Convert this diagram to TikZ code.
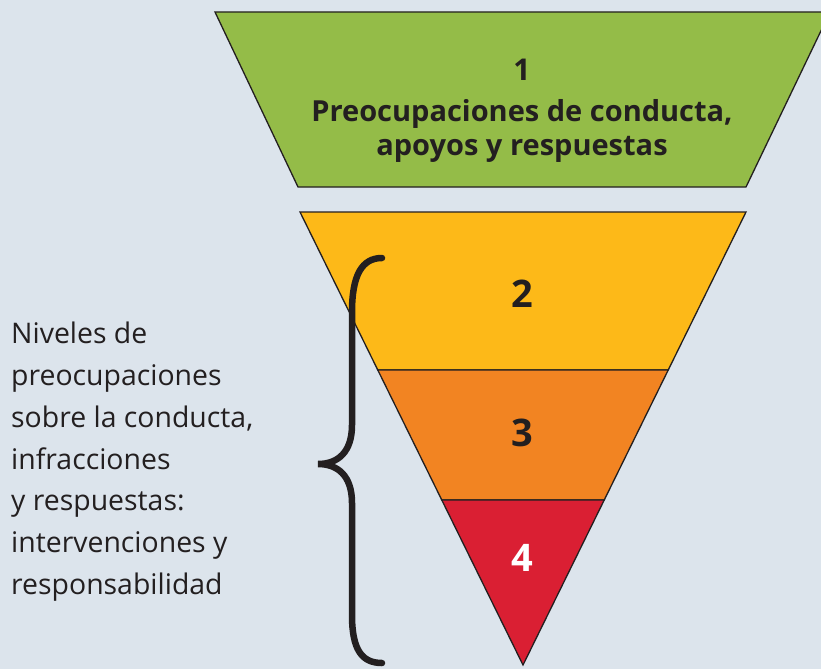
\documentclass[tikz,border=0pt]{standalone}
\usepackage{fontspec}
\setmainfont{Open Sans}
\usepackage{tikz}
\usetikzlibrary{positioning}
\usetikzlibrary{calc}

\definecolor{bgblue}{HTML}{DCE4EC}
\definecolor{ink}{HTML}{231F20}
\definecolor{lvlgreen}{HTML}{94BC48}
\definecolor{lvlyellow}{HTML}{FDB918}
\definecolor{lvlorange}{HTML}{F28422}
\definecolor{lvlred}{HTML}{DA1F33}

\begin{document}
\begin{tikzpicture}[x=1pt,y=-1pt,
  every node/.style={inner sep=0pt,text=ink},
  band/.style={draw=ink,line width=1.3pt,line join=miter},
  level/.style={font=\bfseries\fontsize{38}{40}\selectfont},
  title/.style={font=\bfseries\fontsize{29}{34.5}\selectfont,align=center},
  side/.style={font=\fontsize{28.4}{41.8}\selectfont,align=left},
  brace/.style={draw=ink,line width=6.5pt,line cap=round}]

    \fill[bgblue] (0,0) rectangle (821,669);
    \useasboundingbox (0,0) rectangle (821,669);
    \clip (0,0) rectangle (821,669);

    % funnel corners
    \coordinate (tl) at (300,212);
    \coordinate (tr) at (746,212);
    \coordinate (apex) at (523,665);
    \coordinate (l3) at ($(tl)!{158/453}!(apex)$);
    \coordinate (r3) at ($(tr)!{158/453}!(apex)$);
    \coordinate (l4) at ($(tl)!{288/453}!(apex)$);
    \coordinate (r4) at ($(tr)!{288/453}!(apex)$);

    \filldraw[band,fill=lvlgreen] (215,12) -- (830,12) -- (746,187) -- (298,187) -- cycle;
    \filldraw[band,fill=lvlyellow] (tl) -- (tr) -- (r3) -- (l3) -- cycle;
    \filldraw[band,fill=lvlorange] (l3) -- (r3) -- (r4) -- (l4) -- cycle;
    \filldraw[band,fill=lvlred] (l4) -- (r4) -- (apex) -- cycle;

    \node[font=\bfseries\fontsize{30}{34}\selectfont](one) at (522,70){1};
    \node[title,below=18pt of one](concerns){Preocupaciones de conducta,\\apoyos y respuestas};

    \node[level](two) at (522,294){2};
    \node[level](three) at (522,433){3};
    \node[level,text=white](four) at (522,558){4};

    % brace and side text
    \coordinate (bracetop) at (382,258);
    \coordinate (bracetip) at (318,464);
    \coordinate (bracebot) at (382,663);
    \draw[brace] (bracetop) .. controls (362,258) and (352,275) .. (352,312)
        -- (352,425) .. controls (352,452) and (338,464) .. (bracetip)
        .. controls (338,464) and (352,476) .. (352,503)
        -- (352,615) .. controls (352,650) and (362,663) .. (bracebot);

    \node[side,anchor=north west](levels) at (11,322){Niveles de\\preocupaciones\\sobre la conducta,\\infracciones\\y respuestas:\\intervenciones y\\responsabilidad};
\end{tikzpicture}
\end{document}
